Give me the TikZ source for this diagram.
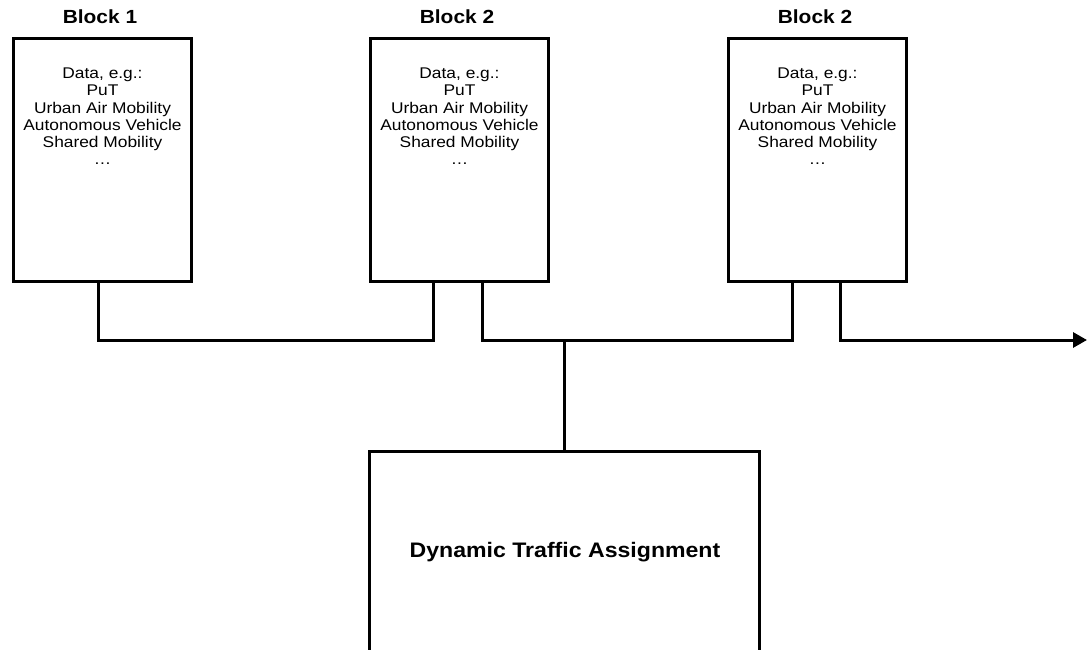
\documentclass[tikz,border=0pt]{standalone}
\usepackage{fontspec}
\setmainfont{Liberation Sans}
\newfontfamily\bodyfont[FakeStretch=1.12]{Liberation Sans}
\newfontfamily\ttlfont[FakeStretch=1.1]{Liberation Sans}
\usetikzlibrary{calc,arrows.meta}
\begin{document}
\begin{tikzpicture}[x=1pt,y=-1pt,
  ln/.style={line width=3pt,line cap=rect},
  blk/.style={draw,line width=3pt,minimum width=178pt,minimum height=243pt,anchor=north west,inner sep=0pt},
  ttl/.style={font=\ttlfont\fontsize{19}{21}\selectfont\bfseries},
  body/.style={align=center,anchor=north,font=\bodyfont\fontsize{15.5}{17.1}\selectfont,inner sep=0pt},
  tip/.style={-{Triangle[length=14pt,width=15pt]}}]
\clip (0,0) rectangle (1087,650);
\useasboundingbox (0,0) rectangle (1087,650);
\node[blk] (b1) at (12,37) {};
\node[blk] (b2) at (369,37) {};
\node[blk] (b3) at (727,37) {};
\node[ttl] (t1) at (100,17) {Block 1};
\node[ttl] (t2) at (457,17) {Block 2};
\node[ttl] (t3) at (815,17) {Block 2};
\foreach \b in {b1,b2,b3}{
  \node[body] (\b txt) at ($(\b.north)+(0,31)$) {Data, e.g.:\\PuT\\Urban Air Mobility\\Autonomous Vehicle\\Shared Mobility\\\dots};
}
\node[draw,line width=3pt,minimum width=390pt,minimum height=210pt,anchor=north west,inner sep=0pt] (dta) at (368,450) {};
\node[font=\ttlfont\fontsize{21}{24}\selectfont\bfseries] (dtatxt) at (565,552) {Dynamic Traffic Assignment};
\coordinate (b1out) at ($(b1.south west)+(86,0)$);
\coordinate (b2in) at ($(b2.south west)+(64,0)$);
\coordinate (b2out) at ($(b2.south west)+(113,0)$);
\coordinate (b3in) at ($(b3.south west)+(65,0)$);
\coordinate (b3out) at ($(b3.south west)+(113,0)$);
\coordinate (bus) at (0,340);
\coordinate (end) at (1087,340);
\draw[ln] (b1out) -- (b1out |- bus) -- (b2in |- bus) -- (b2in);
\draw[ln] (b2out) -- (b2out |- bus) -- (b3in |- bus) -- (b3in);
\draw[ln] (dta.north) -- (dta.north |- bus);
\draw[line width=3pt,tip] (b3out) -- (b3out |- bus) -- (end);
\end{tikzpicture}
\end{document}
